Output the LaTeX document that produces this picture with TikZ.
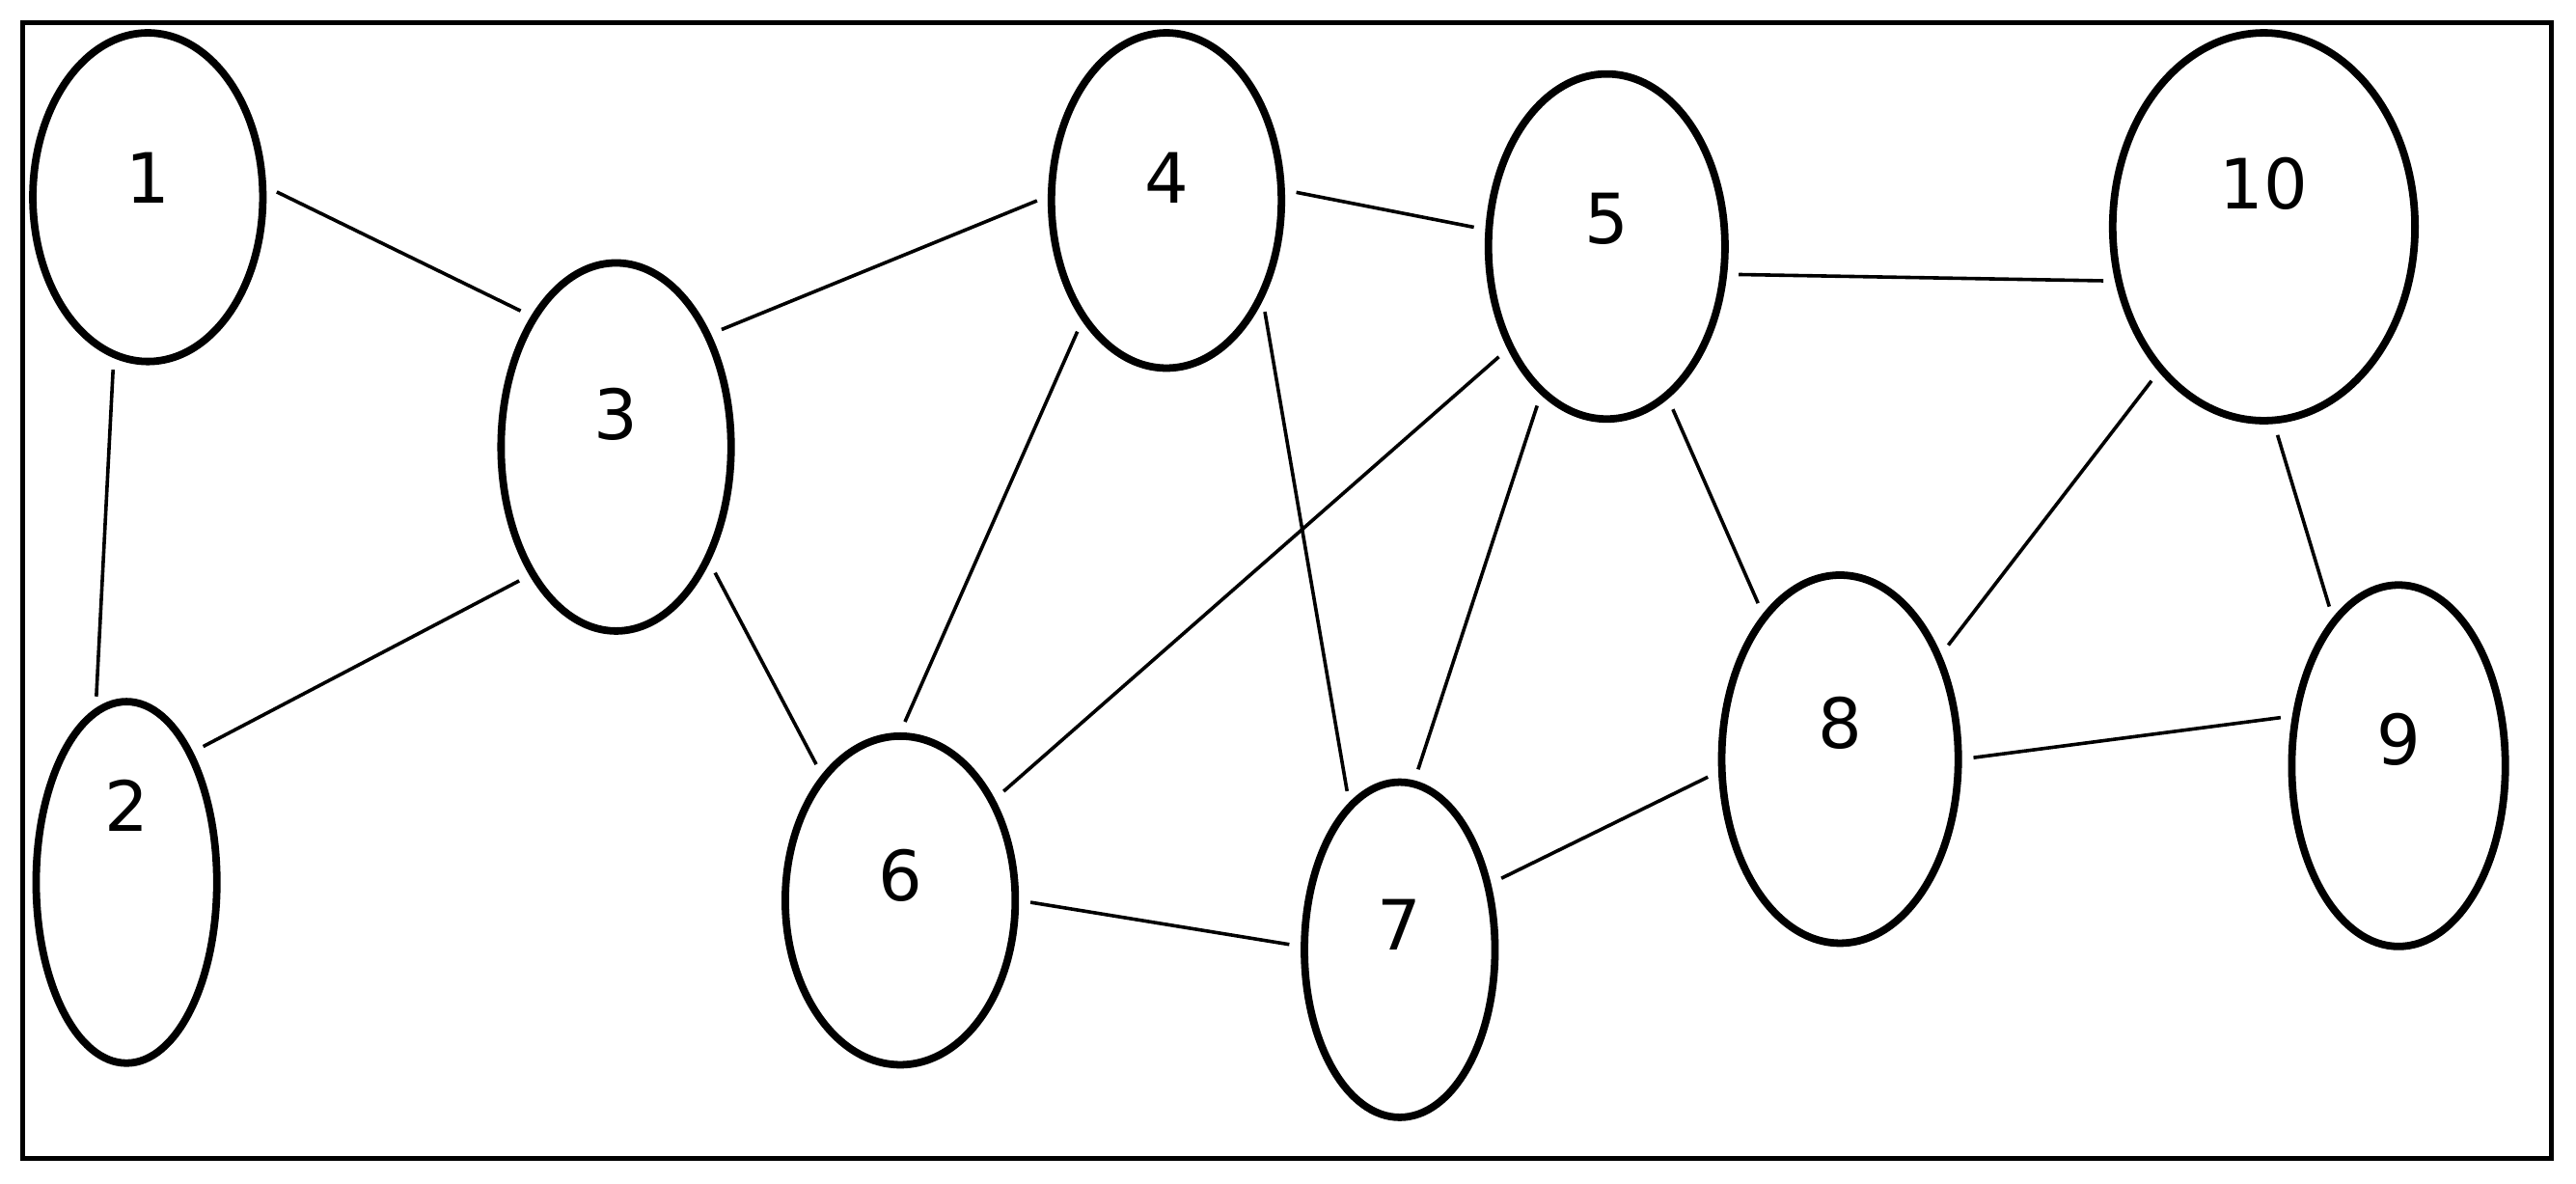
\documentclass[tikz,border=0pt]{standalone}
\usepackage{fontspec}
\setmainfont{DejaVu Sans}
\usetikzlibrary{shapes.geometric}
\begin{document}
\begin{tikzpicture}[x=0.01cm,y=-0.01cm,
  v/.style={ellipse,draw,line width=1.3pt,inner sep=0pt},
  lab/.style={font=\fontsize{12}{14}\selectfont},
  e/.style={line width=0.6pt,shorten >=2pt,shorten <=2pt}]
\useasboundingbox (0,0) rectangle (1568,720);
\draw[line width=0.8pt] (14,14) rectangle (1553,705);
\foreach \n/\x/\y/\rx/\ry/\ly in {1/90/120/70/100/108, 2/77/537/55/110/490, 3/375/272/70/112/252,
 4/710/122/70/102/108, 5/978/150/72/105/133, 6/548/548/70/100/533, 7/852/578/58/102/563,
 8/1120/462/72/112/440, 9/1460/466/65/110/450, 10/1378/138/92/118/112}{
  \node[v,minimum width=2*\rx*0.01cm,minimum height=2*\ry*0.01cm] (n\n) at (\x,\y) {};
  \node[lab] (t\n) at (\x,\ly) {\n};
}
\foreach \a/\pa/\b/\pb in {1/5/3/123, 1/258/2/100, 2/63/3/236, 3/50/4/178, 3/-51/6/122,
  4/5/5/172, 4/-125/6/90, 4/-46/7/109, 5/-134/6/47, 5/-114/7/85, 5/-68/8/118,
  5/-13/10/200, 6/0/7/178, 7/36/8/186, 8/0/9/155, 8/46/10/234, 10/-87/9/114}
  \draw[e] (n\a.\pa) -- (n\b.\pb);
\end{tikzpicture}
\end{document}
